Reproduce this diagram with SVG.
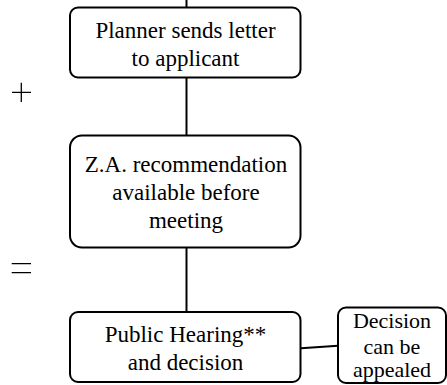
<svg xmlns="http://www.w3.org/2000/svg" width="447" height="385" viewBox="0 0 447 385">
<style>
.box{fill:#fff;stroke:#000;stroke-width:2}
.ln{stroke:#000;stroke-width:2;fill:none}
.sym{stroke:#000;stroke-width:1.3;fill:none}
text{font-family:"Liberation Serif","Times New Roman",serif;font-size:23px;fill:#000;text-anchor:middle}
.sm{font-size:22px}
</style>
<rect width="447" height="385" fill="#fff"/>
<g id="connectors">
<line class="ln" x1="186.5" y1="0" x2="186.5" y2="7.5"/>
<line class="ln" x1="186.5" y1="77.5" x2="186.5" y2="135.5"/>
<line class="ln" x1="186.5" y1="247.5" x2="186.5" y2="312"/>
<line class="ln" x1="301" y1="348.3" x2="338" y2="345.7"/>
</g>
<g id="plus"><path class="sym" d="M12 92.3H31M21.3 82.7V102"/></g>
<g id="equals"><path class="sym" d="M11.7 263.7H31M11.7 272.7H31"/></g>
<g id="n1">
<rect class="box" x="70" y="7.5" width="230.5" height="70" rx="8"/>
<text x="185.5" y="38">Planner sends letter</text>
<text x="185.5" y="66">to applicant</text>
</g>
<g id="n2">
<rect class="box" x="70" y="135.5" width="230.5" height="112" rx="12"/>
<text x="186" y="172">Z.A. recommendation</text>
<text x="186" y="200">available before</text>
<text x="186" y="228">meeting</text>
</g>
<g id="n3">
<rect class="box" x="70" y="312" width="230.5" height="70" rx="8"/>
<text x="185.5" y="342">Public Hearing**</text>
<text x="185.5" y="370">and decision</text>
</g>
<g id="n4">
<rect class="box" x="338" y="307.5" width="108" height="75.5" rx="8"/>
<text class="sm" x="392" y="328">Decision</text>
<text class="sm" x="392" y="354">can be</text>
<text class="sm" x="392" y="377">appealed</text>
</g>
</svg>
